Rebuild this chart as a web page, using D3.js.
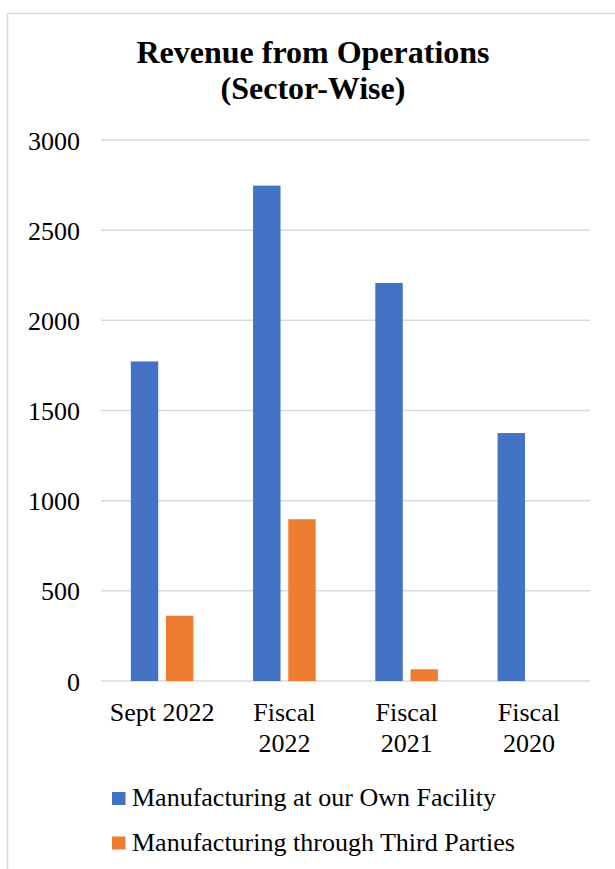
<!DOCTYPE html>
<html>
<head>
<meta charset="utf-8">
<script src="https://cdn.jsdelivr.net/npm/d3@7"></script>
<style>
  html, body { margin: 0; padding: 0; background: #fff; }
  svg { display: block; }
  text { font-family: "Liberation Serif", "Times New Roman", serif; fill: #000; }
</style>
</head>
<body>
<svg id="chart" width="615" height="869"></svg>
<script>
const categories = [["Sept 2022"], ["Fiscal", "2022"], ["Fiscal", "2021"], ["Fiscal", "2020"]];
const categoryKeys = ["Sept 2022", "Fiscal 2022", "Fiscal 2021", "Fiscal 2020"];
const seriesNames = ["Manufacturing at our Own Facility", "Manufacturing through Third Parties"];
const ownFacility = [1772, 2747, 2207, 1375];
const thirdParties = [362, 897, 65, null];
const yTicks = [0, 500, 1000, 1500, 2000, 2500, 3000];
const titleLines = ["Revenue from Operations", "(Sector-Wise)"];
const colors = ["#4472C4", "#ED7D31"];

(function () {
const svg = d3.select("#chart");

// chart frame
svg.append("rect")
  .attr("x", 7.5).attr("y", 13.5)
  .attr("width", 800).attr("height", 1000)
  .attr("fill", "none").attr("stroke", "#d9d9d9").attr("stroke-width", 1.5);

const plotLeft = 101, plotRight = 590, plotTop = 140, plotBottom = 681;

const x = d3.scaleBand().domain(categoryKeys).range([plotLeft, plotRight]).paddingInner(0).paddingOuter(0);
const y = d3.scaleLinear().domain([0, 3000]).range([plotBottom, plotTop]);
const groupW = 62.6;
const xs = d3.scaleBand().domain(seriesNames).range([0, groupW]).paddingInner(0.22).paddingOuter(0);

// gridlines
svg.append("g").selectAll("line").data(yTicks).join("line")
  .attr("x1", plotLeft).attr("x2", plotRight)
  .attr("y1", d => y(d)).attr("y2", d => y(d))
  .attr("stroke", "#d9d9d9").attr("stroke-width", 1.5);

// y axis labels
const yAxis = d3.axisLeft(y).tickValues(yTicks).tickSize(0).tickPadding(0).tickFormat(d3.format("d"));
const yg = svg.append("g").attr("transform", "translate(80,0)").call(yAxis);
yg.select(".domain").remove();
yg.selectAll("text")
  .attr("font-family", "Liberation Serif, Times New Roman, serif")
  .attr("font-size", 26).attr("fill", "#000").attr("dy", "0.35em");

// bars
const data = categoryKeys.map((c, i) => ({ cat: c, vals: [ownFacility[i], thirdParties[i]] }));
const groups = svg.append("g").selectAll("g").data(data).join("g")
  .attr("transform", d => `translate(${x(d.cat) + x.bandwidth() / 2 - groupW / 2},0)`);
groups.selectAll("rect")
  .data(d => d.vals.map((v, j) => ({ v, s: seriesNames[j], j })).filter(e => e.v != null))
  .join("rect")
  .attr("x", e => xs(e.s))
  .attr("width", xs.bandwidth())
  .attr("y", e => y(e.v))
  .attr("height", e => y(0) - y(e.v))
  .attr("fill", e => colors[e.j]);

// x labels
const xl = svg.append("g").selectAll("text").data(categoryKeys).join("text")
  .attr("x", d => x(d) + x.bandwidth() / 2)
  .attr("y", 721)
  .attr("text-anchor", "middle")
  .attr("font-size", 26);
xl.each(function(d, i) {
  const t = d3.select(this);
  categories[i].forEach((line, k) => {
    t.append("tspan").attr("x", x(d) + x.bandwidth() / 2).attr("dy", k === 0 ? 0 : 31).text(line);
  });
});

// title
svg.append("g").selectAll("text").data(titleLines).join("text")
  .attr("x", 313).attr("y", (d, i) => 63 + i * 36)
  .attr("text-anchor", "middle")
  .attr("font-size", 32).attr("font-weight", "bold")
  .text(d => d);

// legend
const lg = svg.append("g").selectAll("g").data(seriesNames).join("g")
  .attr("transform", (d, i) => `translate(112,${792 + i * 44.5})`);
lg.append("rect").attr("width", 13.5).attr("height", 13).attr("fill", (d, i) => colors[i]);
lg.append("text").attr("x", 20).attr("y", 14).attr("font-size", 26).text(d => d);
})();
</script>
</body>
</html>
